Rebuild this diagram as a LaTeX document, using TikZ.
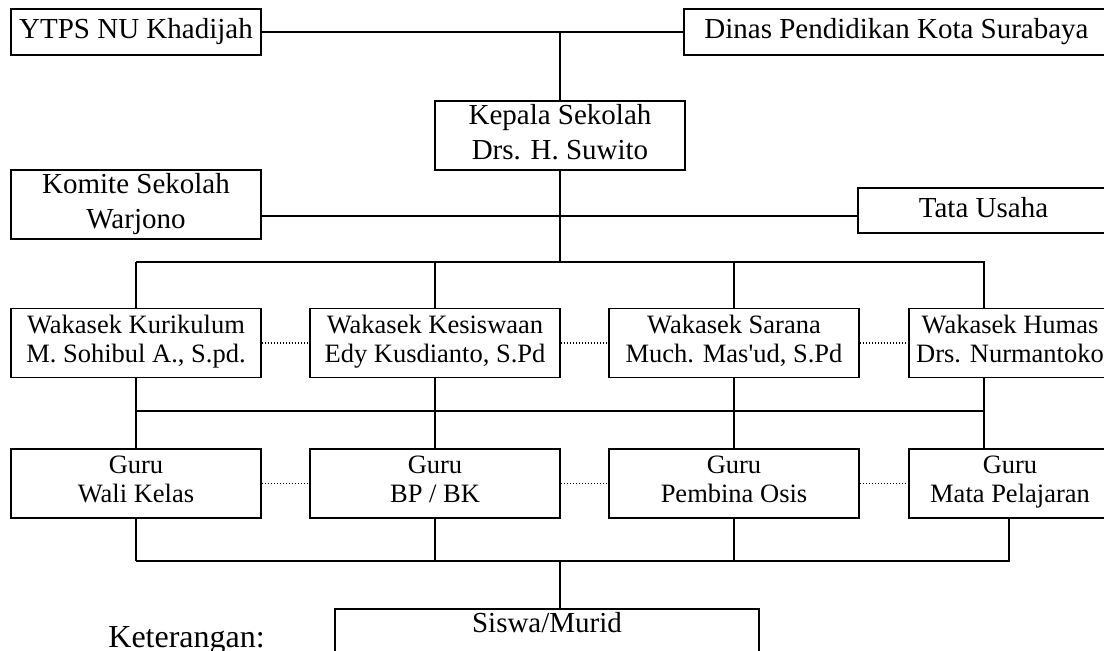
\documentclass[tikz,border=0pt]{standalone}
\usepackage{fontspec}
\setmainfont{Liberation Serif}

\begin{document}
\begin{tikzpicture}[x=0.5pt,y=-0.5pt,
    box/.style={draw,line width=0.9pt,align=center,inner sep=0pt,
      minimum width=125pt,minimum height=34.5pt,
      font=\fontsize{14.5}{17.35}\selectfont},
    single/.style={box,minimum height=23pt,
      execute at begin node=\strut,execute at end node=\strut},
    chief/.style={box,
      execute at begin node={\rule{0pt}{13.5pt}},
      execute at end node={\rule[-3.65pt]{0pt}{3.65pt}}},
    staff/.style={box,font=\fontsize{13.25}{14.5}\selectfont,
      execute at begin node=\strut,execute at end node=\strut},
    link/.style={line width=0.9pt},
    peer/.style={line width=0.6pt,dash pattern=on 0.7pt off 0.8pt}]
    \useasboundingbox (0,0) rectangle (1104,650);
    \clip (0,0) rectangle (1104,650);

    % Top level
    \node[single] (ytps) at (136,32) {YTPS NU Khadijah};
    \node[single,minimum width=212.5pt] (dinas) at (896.5,32) {Dinas Pendidikan Kota Surabaya};
    \node[chief] (kepala) at (560,135.5) {Kepala Sekolah\\Drs. H. Suwito};
    \node[chief] (komite) at (136,204.5) {Komite Sekolah\\Warjono};
    \node[single,minimum width=125.5pt,minimum height=22.5pt] (tata) at (983.5,210.5) {Tata Usaha};

    % Wakasek row
    \node[staff] (wk1) at (136,343) {Wakasek Kurikulum\\M. Sohibul A., S.pd.};
    \node[staff] (wk2) at (435,343) {Wakasek Kesiswaan\\Edy Kusdianto, S.Pd};
    \node[staff] (wk3) at (734,343) {Wakasek Sarana\\Much. Mas\textquotesingle ud, S.Pd};
    \node[staff,minimum width=101pt] (wk4) at (1010,343) {Wakasek Humas\\Drs. Nurmantoko};

    % Guru row
    \node[staff] (gr1) at (136,483.5) {Guru\\Wali Kelas};
    \node[staff] (gr2) at (435,483.5) {Guru\\BP / BK};
    \node[staff] (gr3) at (734,483.5) {Guru\\Pembina Osis};
    \node[staff,minimum width=101pt] (gr4) at (1010,483.5) {Guru\\Mata Pelajaran};

    % Siswa
    \node[chief,minimum width=212pt,anchor=north] (siswa) at (547,608) {Siswa/Murid\\\mbox{}};
    \node[anchor=base west,inner sep=0pt,font=\fontsize{16}{19}\selectfont] (ket) at (108,647) {Keterangan:};

    % Junctions
    \coordinate (jA) at (560,216);
    \coordinate (busA) at (560,262);
    \coordinate (colD) at (984,262);
    \coordinate (busB) at (0,411);
    \coordinate (busC) at (0,561);
    \coordinate (colE) at (1009,561);

    % Lines
    \draw[link] (ytps) -- (dinas);
    \draw[link] (kepala) -- (kepala |- ytps);
    \draw[link] (komite.east |- jA) -- (tata.west |- jA);
    \draw[link] (kepala.south) -- (busA);
    \draw[link] (wk1.north |- busA) -- (colD) -- (colD |- wk4.north);
    \foreach \n in {wk1,wk2,wk3}
      \draw[link] (\n.north) -- (\n.north |- busA);

    \foreach \i in {1,2,3}
      \draw[link] (wk\i) -- (gr\i);
    \draw[link] (colD |- wk4.south) -- (colD |- gr4.north);
    \draw[link] (wk1.south |- busB) -- (colD |- busB);

    \foreach \i in {1,2,3}
      \draw[link] (gr\i.south) -- (gr\i.south |- busC);
    \draw[link] (gr1.south |- busC) -- (colE) -- (colE |- gr4.south);
    \draw[link] (kepala |- busC) -- (kepala |- siswa.north);

    % Dotted links
    \foreach \a/\b in {1/2,2/3,3/4} {
      \draw[peer] (wk\a) -- (wk\b);
      \draw[peer] (gr\a) -- (gr\b);
    }
\end{tikzpicture}
\end{document}
